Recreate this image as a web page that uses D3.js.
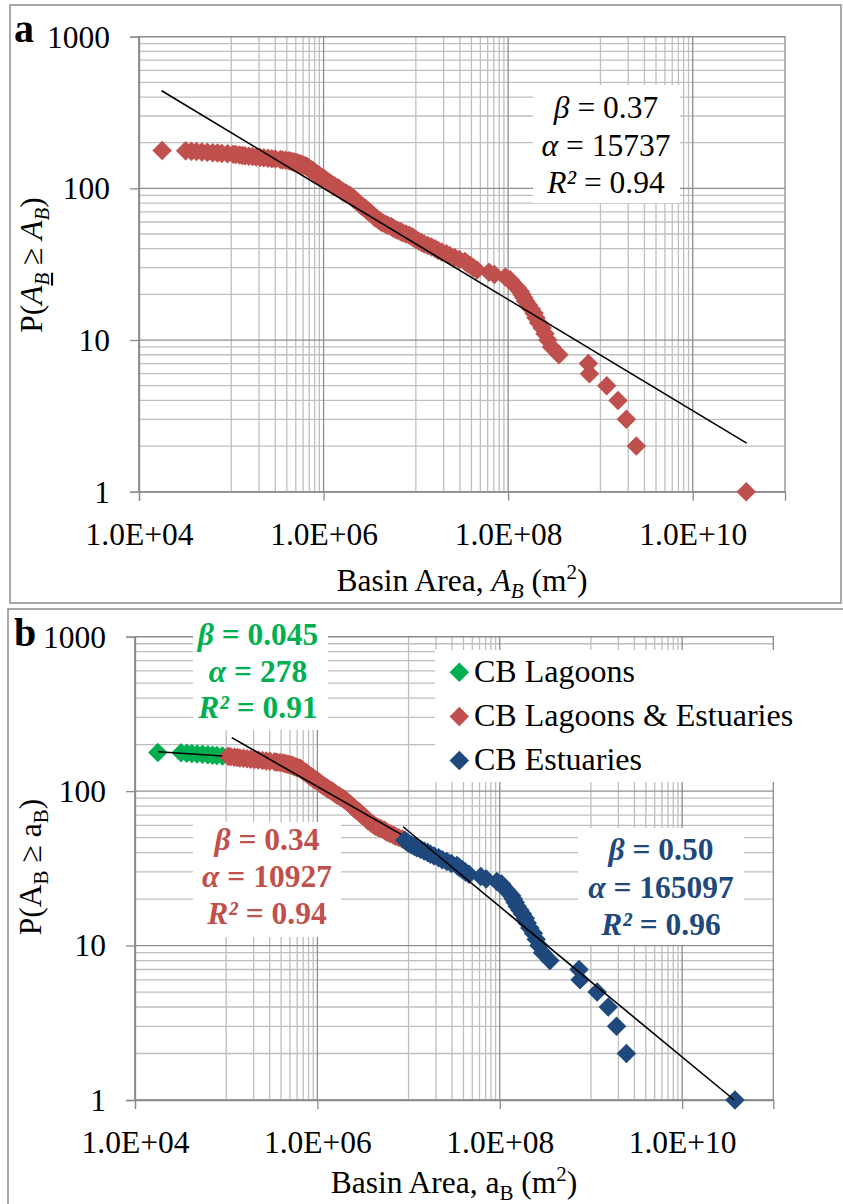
<!DOCTYPE html>
<html>
<head>
<meta charset="utf-8">
<script src="https://cdn.jsdelivr.net/npm/d3@7"></script>
<style>
  body { margin: 0; background: #fff; }
  svg, svg text { font-family: "Liberation Serif", "Tinos", "Times New Roman", "Nimbus Roman", "DejaVu Serif", serif; }
</style>
</head>
<body>
<script>
// basin areas (m2), largest first -> rank i+1 is P(A >= a)
const basinAreas = [
  3.8e10, 2.45e9, 1.91e9, 1.55e9, 1.17e9, 7.6e8, 7.4e8, 3.55e8, 2.95e8, 2.69e8,
  2.51e8, 2.34e8, 2.14e8, 2.0e8, 1.91e8, 1.78e8, 1.66e8, 1.55e8, 1.48e8, 1.41e8,
  1.35e8, 1.26e8, 1.17e8, 1.10e8, 1.05e8, 9.3e7, 7.1e7, 6.2e7, 4.6e7, 4.2e7,
  3.9e7, 3.6e7, 3.4e7, 2.95e7, 2.63e7, 2.34e7, 2.14e7, 1.91e7, 1.74e7, 1.62e7,
  1.48e7, 1.35e7, 1.23e7, 1.15e7, 1.07e7, 1.0e7, 9.5e6, 9.1e6, 8.5e6, 7.8e6,
  7.2e6, 6.8e6, 6.3e6, 5.9e6, 5.6e6, 5.4e6, 5.0e6, 4.7e6, 4.4e6, 4.2e6,
  4.1e6, 3.9e6, 3.8e6, 3.6e6, 3.55e6, 3.47e6, 3.39e6, 3.31e6, 3.16e6, 3.09e6,
  3.02e6, 2.95e6, 2.88e6, 2.82e6, 2.69e6, 2.63e6, 2.57e6, 2.51e6, 2.45e6, 2.40e6,
  2.34e6, 2.29e6, 2.24e6, 2.19e6, 2.14e6, 2.09e6, 2.04e6, 2.0e6, 1.95e6, 1.91e6,
  1.82e6, 1.78e6, 1.74e6, 1.66e6, 1.62e6, 1.58e6, 1.55e6, 1.51e6, 1.48e6, 1.45e6,
  1.41e6, 1.35e6, 1.32e6, 1.29e6, 1.26e6, 1.23e6, 1.20e6, 1.17e6, 1.15e6, 1.12e6,
  1.10e6, 1.07e6, 1.06e6, 1.05e6, 1.02e6, 1.0e6, 9.8e5, 9.5e5, 9.3e5, 9.1e5,
  9.0e5, 8.9e5, 8.7e5, 8.5e5, 8.3e5, 8.2e5, 8.1e5, 7.9e5, 7.8e5, 7.7e5,
  7.6e5, 7.4e5, 7.2e5, 7.1e5, 7.0e5, 6.9e5, 6.8e5, 6.7e5, 6.6e5, 6.5e5,
  6.3e5, 6.0e5, 5.9e5, 5.7e5, 5.5e5, 5.4e5, 5.2e5, 5.0e5, 4.8e5, 4.6e5,
  4.4e5, 4.2e5, 3.9e5, 3.6e5, 3.4e5, 3.0e5, 2.75e5, 2.5e5, 2.25e5, 2.05e5,
  1.86e5, 1.70e5, 1.55e5, 1.41e5, 1.32e5, 1.23e5, 1.12e5, 1.05e5, 9.1e4, 7.9e4,
  7.1e4, 6.3e4, 5.5e4, 4.8e4, 4.2e4, 3.7e4, 3.2e4, 1.78e4
];

// panel b classes
const seriesNames = ["CB Lagoons", "CB Lagoons & Estuaries", "CB Estuaries"];
const seriesColors = ["#00B050", "#C0504D", "#1F497D"];
const lagoonMax = 1e5;
const estuaryMin = 9e6;

const xTicks = [1e4, 1e6, 1e8, 1e10];
const yTicks = [1, 10, 100, 1000];

// power-law fits, end points [area, P]
const fitAll = [[1.76e4, 440], [3.84e10, 2.09]];
const fitLagoons = [[1.8e4, 180], [9.1e4, 169]];
const fitMixed = [[1.15e5, 222], [8.3e6, 52.5]];
const fitEstuaries = [[8.7e6, 58.8], [3.73e10, 1]];

const statsAll = [["β", "0.37"], ["α", "15737"], ["R²", "0.94"]];
const statsLagoons = [["β", "0.045"], ["α", "278"], ["R²", "0.91"]];
const statsMixed = [["β", "0.34"], ["α", "10927"], ["R²", "0.94"]];
const statsEstuaries = [["β", "0.50"], ["α", "165097"], ["R²", "0.96"]];

const points = basinAreas.map((a, i) => ({ area: a, p: i + 1 }));
const classOf = (a) => (a < lagoonMax ? 0 : a < estuaryMin ? 1 : 2);

const serif = '"Liberation Serif", "Tinos", "Times New Roman", "Nimbus Roman", "DejaVu Serif", serif';
const svg = d3.select("body").append("svg").attr("width", 843).attr("height", 1204)
  .attr("font-family", serif);

const fs = 31.5;
const gridMinor = "#BFBFBF";
const gridMajor = "#8C8C8C";
const diamond = d3.symbol(d3.symbolSquare, 190);

// panel frames
svg.append("rect").attr("x", 10).attr("y", 5).attr("width", 831).attr("height", 598)
  .attr("fill", "none").attr("stroke", "#8C8C8C").attr("stroke-width", 1.5);
svg.append("rect").attr("x", 8).attr("y", 609).attr("width", 840).attr("height", 600)
  .attr("fill", "none").attr("stroke", "#8C8C8C").attr("stroke-width", 1.5);

const xMinor = [5, 7, 9].flatMap((e) => d3.range(1, 10).map((k) => k * 10 ** e));
const yMinor = [0, 1, 2].flatMap((e) => d3.range(2, 10).map((k) => k * 10 ** e));

function panel(o) {
  const g = svg.append("g");
  const x = d3.scaleLog().domain([1e4, 1e11]).range([o.left, o.right]);
  const y = d3.scaleLog().domain([1, 1000]).range([o.bottom, o.top]);

  g.selectAll(".vmin").data(xMinor).join("line")
    .attr("x1", (d) => x(d)).attr("x2", (d) => x(d))
    .attr("y1", o.top).attr("y2", o.bottom)
    .attr("stroke", gridMinor).attr("stroke-width", 1.3);
  g.selectAll(".hmin").data(yMinor).join("line")
    .attr("y1", (d) => y(d)).attr("y2", (d) => y(d))
    .attr("x1", o.left).attr("x2", o.right)
    .attr("stroke", gridMinor).attr("stroke-width", 1.3);
  g.selectAll(".vmaj").data(xTicks).join("line")
    .attr("x1", (d) => x(d)).attr("x2", (d) => x(d))
    .attr("y1", o.top).attr("y2", o.bottom)
    .attr("stroke", gridMajor).attr("stroke-width", 1.3);
  g.selectAll(".hmaj").data(yTicks).join("line")
    .attr("y1", (d) => y(d)).attr("y2", (d) => y(d))
    .attr("x1", o.left).attr("x2", o.right)
    .attr("stroke", gridMajor).attr("stroke-width", 1.3);
  g.append("rect").attr("x", o.left).attr("y", o.top)
    .attr("width", o.right - o.left).attr("height", o.bottom - o.top)
    .attr("fill", "none").attr("stroke", gridMajor).attr("stroke-width", 1.3);

  const yAxis = g.append("g").attr("transform", `translate(${o.left},0)`)
    .call(d3.axisLeft(y).tickValues(yTicks).tickFormat(d3.format("d")).tickSize(9).tickPadding(20));
  const xAxis = g.append("g").attr("transform", `translate(0,${o.bottom})`)
    .call(d3.axisBottom(x).tickValues(xTicks)
      .tickFormat((d) => "1.0E+" + String(Math.round(Math.log10(d))).padStart(2, "0"))
      .tickSize(9).tickPadding(22));
  [yAxis, xAxis].forEach((ax) => {
    ax.attr("font-family", serif).attr("font-size", fs);
    ax.select(".domain").attr("stroke", gridMajor).attr("stroke-width", 1.3);
    ax.selectAll(".tick line").attr("stroke", gridMajor).attr("stroke-width", 1.3);
    ax.selectAll("text").attr("fill", "#000");
  });
  yAxis.selectAll("text").attr("dy", "0.33em");
  return { g, x, y };
}

function statsBox(g, box, lines, color, bold) {
  g.append("rect").attr("x", box.x).attr("y", box.y).attr("width", box.w).attr("height", box.h).attr("fill", "#fff");
  lines.forEach(([sym, val], i) => {
    const t = g.append("text").attr("x", box.cx).attr("y", box.base + i * box.step)
      .attr("text-anchor", "middle").attr("font-size", fs).attr("fill", color)
      .attr("font-weight", bold ? "bold" : "normal");
    t.append("tspan").attr("font-style", "italic").text(sym);
    t.append("tspan").text(" = " + val);
  });
}

function fitLine(p, ends) {
  p.g.append("line")
    .attr("x1", p.x(ends[0][0])).attr("y1", p.y(ends[0][1]))
    .attr("x2", p.x(ends[1][0])).attr("y2", p.y(ends[1][1]))
    .attr("stroke", "#000").attr("stroke-width", 1.6);
}

function markers(p, data, color) {
  p.g.append("g").selectAll("path").data(data).join("path")
    .attr("d", diamond)
    .attr("transform", (d) => `translate(${p.x(d.area)},${p.y(d.p)}) rotate(45)`)
    .attr("fill", color);
}

function yTitle(cx, cy, parts) {
  const t = svg.append("text").attr("transform", `translate(${cx},${cy}) rotate(-90)`)
    .attr("text-anchor", "middle").attr("font-size", fs);
  parts.forEach((s) => {
    const ts = t.append("tspan").text(s.t);
    if (s.i) ts.attr("font-style", "italic");
    if (s.sub) ts.attr("font-size", 21).attr("dy", 7);
    if (s.up) ts.attr("dy", -7);
    if (s.u) ts.attr("text-decoration", "underline");
  });
}

function xTitle(cx, by, parts) {
  const t = svg.append("text").attr("x", cx).attr("y", by).attr("text-anchor", "middle").attr("font-size", fs);
  parts.forEach((s) => {
    const ts = t.append("tspan").text(s.t);
    if (s.i) ts.attr("font-style", "italic");
    if (s.sub) ts.attr("font-size", 21).attr("dy", 7);
    if (s.sup) ts.attr("font-size", 21).attr("dy", -12);
    if (s.dy) ts.attr("dy", s.dy);
  });
}

// ---------- panel a ----------
const pa = panel({ left: 139, right: 785, top: 36.7, bottom: 491.7 });
statsBox(pa.g, { x: 533, y: 85, w: 147, h: 118, cx: 606, base: 118, step: 37.5 }, statsAll, "#000", false);
markers(pa, points, "#C0504D");
fitLine(pa, fitAll);

svg.append("text").attr("x", 14).attr("y", 42).attr("font-size", 40).attr("font-weight", "bold").text("a");
yTitle(42, 265, [
  { t: "P(" }, { t: "A", i: true }, { t: "B", i: true, sub: true, u: true },
  { t: " ≥ ", up: true }, { t: "A", i: true }, { t: "B", i: true, sub: true }, { t: ")", up: true }
]);
xTitle(462, 591, [
  { t: "Basin Area, " }, { t: "A", i: true }, { t: "B", i: true, sub: true },
  { t: " (m", dy: -7 }, { t: "2", sup: true }, { t: ")", dy: 12 }
]);

// ---------- panel b ----------
const pb = panel({ left: 135, right: 773.3, top: 636.7, bottom: 1100 });
statsBox(pb.g, { x: 193, y: 620, w: 135, h: 110, cx: 258, base: 645, step: 36.7 }, statsLagoons, seriesColors[0], true);
statsBox(pb.g, { x: 193, y: 822, w: 148, h: 115, cx: 267, base: 850, step: 37 }, statsMixed, seriesColors[1], true);
statsBox(pb.g, { x: 578, y: 828, w: 166, h: 117, cx: 661, base: 860, step: 37.5 }, statsEstuaries, seriesColors[2], true);

// legend
pb.g.append("rect").attr("x", 435).attr("y", 650).attr("width", 362).attr("height", 132).attr("fill", "#fff");
seriesNames.forEach((name, i) => {
  const by = 681.7 + i * 44.2;
  pb.g.append("path").attr("d", diamond).attr("transform", `translate(459.3,${by - 9.5}) rotate(45)`)
    .attr("fill", seriesColors[i]);
  pb.g.append("text").attr("x", 474).attr("y", by).attr("font-size", 32).text(name);
});

[0, 1, 2].forEach((c) => markers(pb, points.filter((d) => classOf(d.area) === c), seriesColors[c]));
[fitLagoons, fitMixed, fitEstuaries].forEach((f) => fitLine(pb, f));

svg.append("text").attr("x", 14).attr("y", 646).attr("font-size", 40).attr("font-weight", "bold").text("b");
yTitle(41, 867, [
  { t: "P(A" }, { t: "B", sub: true }, { t: " ≥ a", up: true }, { t: "B", sub: true }, { t: ")", up: true }
]);
xTitle(454, 1193, [
  { t: "Basin Area, a" }, { t: "B", sub: true },
  { t: " (m", dy: -7 }, { t: "2", sup: true }, { t: ")", dy: 12 }
]);
</script>
</body>
</html>
